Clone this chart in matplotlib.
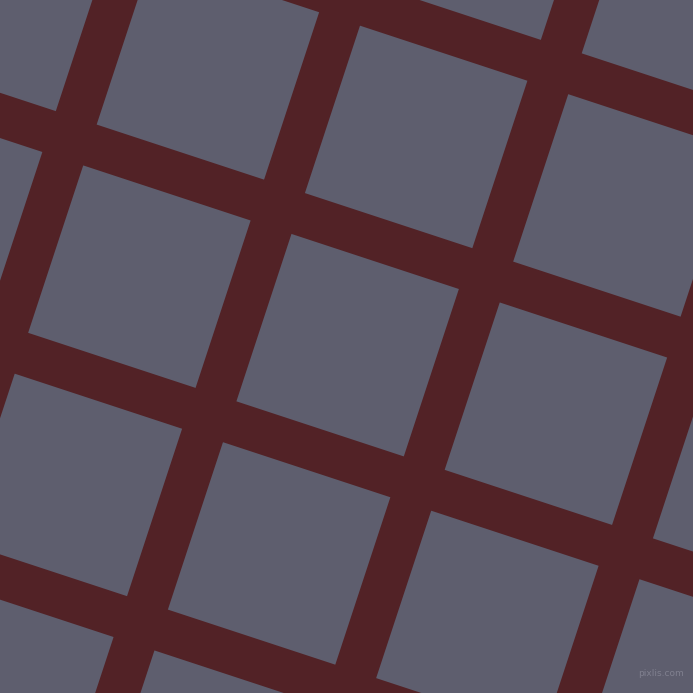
import matplotlib
matplotlib.use("Agg")
from matplotlib import pyplot as plt
import numpy as np

# band centres (pixels)
steep_x_at_top = [115.0, 345.8, 576.6, 807.4]      # where the steep bands cross y=0
shallow_y_at_left = [-115.4, 115.4, 346.2, 577.0]  # where the shallow bands cross x=0
tilt = 0.329                                        # tan of the rotation angle
band_width_px = 43.0

bg_color = '#5e5e6e'
band_color = '#522226'

size = 693
fig = plt.figure(figsize=(size / 100, size / 100), dpi=100)
ax = fig.add_axes([0, 0, 1, 1])
ax.set_facecolor(bg_color)
ax.axis('off')
fig.patch.set_facecolor(bg_color)

# half width measured along an axis rather than across the band
half = band_width_px / 2 * np.sqrt(1 + tilt ** 2)
a, b = -300.0, size + 300.0
for x0 in steep_x_at_top:
    xs = [x0 - half - tilt * a, x0 + half - tilt * a, x0 + half - tilt * b, x0 - half - tilt * b]
    ax.fill(xs, [a, a, b, b], color=band_color, linewidth=0)
for y0 in shallow_y_at_left:
    ys = [y0 - half + tilt * a, y0 + half + tilt * a, y0 + half + tilt * b, y0 - half + tilt * b]
    ax.fill([a, a, b, b], ys, color=band_color, linewidth=0)

ax.set_xlim(0, size)
ax.set_ylim(size, 0)

ax.text(661, 673, 'pixlis.com', fontsize=6.5, color='#80808f', ha='center', va='center',
        family='DejaVu Sans')

fig.savefig('out.png', dpi=100, facecolor=bg_color)
